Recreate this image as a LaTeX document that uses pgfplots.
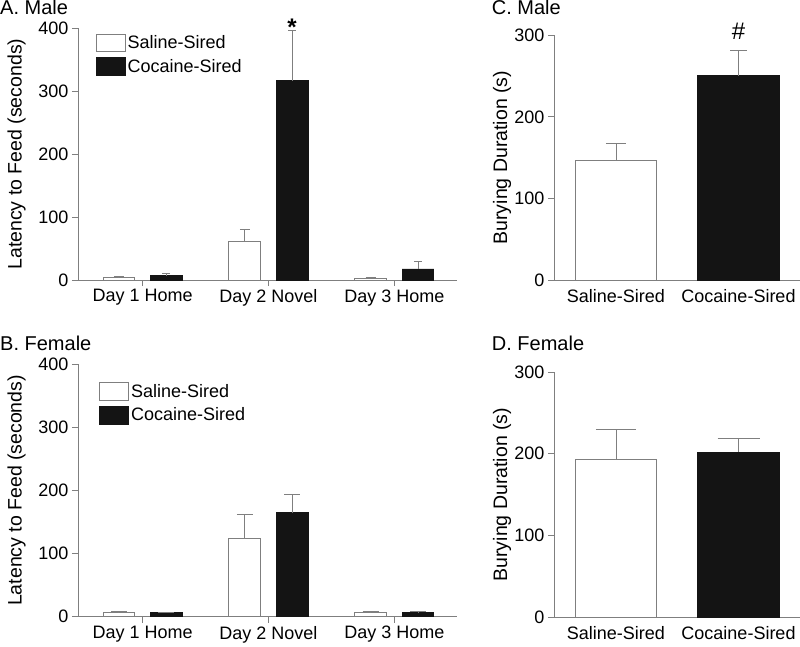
\documentclass[border=0pt]{standalone}
\usepackage{fontspec}
\setmainfont{Liberation Sans}
\usepackage{pgfplots}
\pgfplotsset{compat=1.18}
\definecolor{axgray}{HTML}{7F7F7F}
\definecolor{barblack}{HTML}{141414}

\pgfplotsset{
  panel/.style={
    scale only axis,
    anchor=south west,
    axis lines=left,
    axis line style={-, draw=axgray, line width=0.9pt},
    ymin=0,
    tick align=outside,
    major tick length=6pt,
    tick style={draw=axgray, line width=0.9pt},
    minor tick num=0,
    ytick pos=left, xtick pos=bottom,
    tick label style={font=\fontsize{18}{20}\selectfont},
    /pgf/number format/assume math mode=true,
    ybar, bar shift=0,
    xtick=data,
    clip=false,
  },
  ylab/.style={every axis y label/.style={at={(axis description cs:#1,0.5)}, rotate=90, anchor=center,
    font=\fontsize{19.5}{22}\selectfont}},
  legbox/.style={legend image code/.code={\draw[##1] (0pt,-8.75pt) rectangle (29pt,8.75pt);}},
  saline/.style={fill=white, draw=axgray, line width=0.9pt, legbox,
    error bars/.cd, y dir=plus, y explicit, error mark=|,
    error bar style={draw=axgray, line width=0.9pt},
    error mark options={draw=axgray, line width=0.9pt, mark size=#1}},
  cocaine/.style={fill=barblack, draw=barblack, line width=0.9pt, legbox,
    error bars/.cd, y dir=plus, y explicit, error mark=|,
    error bar style={draw=axgray, line width=0.9pt},
    error mark options={draw=axgray, line width=0.9pt, mark size=#1}},
}
\tikzset{paneltitle/.style={anchor=base west, inner sep=0pt, font=\fontsize{20}{22}\selectfont}}

\begin{document}
\begin{tikzpicture}

% A. Male - latency to feed
\begin{axis}[panel, at={(78pt,366pt)}, width=379.3pt, height=251.7pt,
  xmin=-0.513, xmax=2.5, ymax=400, ytick={0,100,200,300,400},
  bar width=0.252,
  xticklabels={Day 1 Home, Day 2 Novel, Day 3 Home},
  ylabel={Latency to Feed (seconds)}, ylab=-0.162,
  legend style={draw=none, fill=none, at={(axis description cs:0.0385,0.988)}, anchor=north west,
    font=\fontsize{18}{20}\selectfont, row sep=5pt,
    /tikz/every even column/.style={column sep=8.5pt}},
  legend cell align=left,
]
\addplot+[bar shift=-0.188, saline=5] coordinates {(0,4) +- (0,2) (1,62) +- (0,18) (2,3) +- (0,1)};
\addlegendentry{Saline-Sired}
\addplot+[bar shift=0.188, cocaine=4] coordinates {(0,7) +- (0,3.6) (1,317) +- (0,80) (2,17.5) +- (0,12)};
\addlegendentry{Cocaine-Sired}
\node[font=\fontsize{24}{24}\selectfont\bfseries, anchor=base, inner sep=0pt, yshift=-5pt] at (axis cs:1.188,397) {*};
\end{axis}

% B. Female - latency to feed
\begin{axis}[panel, at={(78pt,29.3pt)}, width=379.3pt, height=252.4pt,
  xmin=-0.513, xmax=2.5, ymax=400, ytick={0,100,200,300,400},
  bar width=0.252,
  xticklabels={Day 1 Home, Day 2 Novel, Day 3 Home},
  ylabel={Latency to Feed (seconds)}, ylab=-0.162,
  legend style={draw=none, fill=none, at={(axis description cs:0.0475,0.937)}, anchor=north west,
    font=\fontsize{18}{20}\selectfont, row sep=5pt,
    /tikz/every even column/.style={column sep=8.5pt}},
  legend cell align=left,
]
\addplot+[bar shift=-0.188, saline=8] coordinates {(0,7) +- (0,1.5) (1,124) +- (0,38) (2,7) +- (0,1.5)};
\addlegendentry{Saline-Sired}
\addplot+[bar shift=0.188, cocaine=8] coordinates {(0,6) +- (0,1) (1,165) +- (0,29) (2,6.3) +- (0,2.7)};
\addlegendentry{Cocaine-Sired}
\end{axis}

% C. Male - burying duration
\begin{axis}[panel, at={(554pt,366pt)}, width=246pt, height=244.7pt,
  xmin=-0.506, xmax=1.502, ymax=300, ytick={0,100,200,300},
  bar width=0.665,
  xtick={0,1}, xticklabels={Saline-Sired, Cocaine-Sired},
  x tick style={draw=none},
  ylabel={Burying Duration (s)}, ylab=-0.211,
]
\addplot+[saline=10] coordinates {(0,147) +- (0,20)};
\addplot+[cocaine=8.5] coordinates {(1,250.5) +- (0,31)};
\node[font=\fontsize{24}{24}\selectfont, anchor=base, inner sep=0pt, yshift=10.7pt] at (axis cs:1,281.5) {\#};
\end{axis}

% D. Female - burying duration
\begin{axis}[panel, at={(554pt,28.7pt)}, width=246pt, height=245.3pt,
  xmin=-0.506, xmax=1.502, ymax=300, ytick={0,100,200,300},
  bar width=0.665,
  xtick={0,1}, xticklabels={Saline-Sired, Cocaine-Sired},
  x tick style={draw=none},
  ylabel={Burying Duration (s)}, ylab=-0.211,
]
\addplot+[saline=20] coordinates {(0,193) +- (0,37)};
\addplot+[cocaine=21] coordinates {(1,202) +- (0,17)};
\end{axis}

\node[paneltitle] at (0pt,631pt) {A. Male};
\node[paneltitle] at (0pt,296pt) {B. Female};
\node[paneltitle] at (491.7pt,631pt) {C. Male};
\node[paneltitle] at (491.7pt,296pt) {D. Female};

\pgfresetboundingbox
\useasboundingbox (0pt,0pt) rectangle (800pt,646pt);
\end{tikzpicture}
\end{document}
